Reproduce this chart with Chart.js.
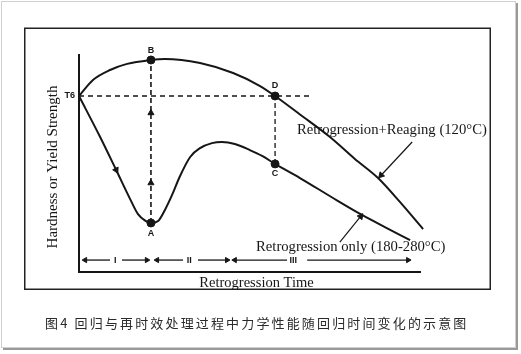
<!DOCTYPE html>
<html><head><meta charset="utf-8">
<script src="https://cdn.jsdelivr.net/npm/chart.js@4.4.1/dist/chart.umd.min.js"></script>
<style>html,body{margin:0;padding:0;background:#fff}canvas{display:block}</style>
</head><body>
<canvas id="c" width="521" height="354"></canvas>
<script>
// ---------------- data (schematic units: time 0-100, strength 0-100) ----------------
const reagingX = [0, 4.1, 9.1, 14.1, 21.1, 25.2, 35.5, 45.2, 53.1, 57.5, 64.8, 73.6, 80.9, 87.7, 94.1, 100.9];
const reagingY = [81.1, 88.5, 93.1, 95.9, 97.7, 98.2, 96.3, 91.7, 85.7, 81.1, 72.6, 62.2, 52.1, 43.3, 32.3, 19.8];
const retroX = [0, 6.2, 10.9, 15.0, 17.3, 19.4, 21.1, 23.2, 25.2, 27.3, 29.5, 32.6, 35.5, 39.0, 41.9, 45.7, 50.1, 53.7, 57.5, 64.8, 74.5, 83.0, 89.7, 97.1];
const retroY = [81.1, 62.2, 47.0, 33.6, 26.7, 23.7, 22.6, 23.5, 28.6, 35.5, 43.8, 53.0, 57.1, 59.4, 59.9, 59.0, 56.2, 53.5, 49.8, 43.3, 34.1, 26.3, 20.7, 14.7];
const pointNames = ['A', 'B', 'C', 'D'];
const pointX = [21.1, 21.1, 57.5, 57.5];
const pointY = [22.6, 97.7, 49.8, 81.1];
const t6Label = 'T6';
const t6Value = 81.1;
const t6LineEnd = 67.7;
const upArrowY = [73.3, 41.0];
const downArrow = [10.9, 47.0];
const regionNames = ['I', 'II', 'III'];
const regionFrom = [1.8, 22.9, 45.7];
const regionLeftEnd = [9.1, 30.5, 61.0];
const regionRightStart = [12.6, 34.9, 66.9];
const regionTo = [19.9, 43.4, 96.5];
const regionLabelX = [10.6, 32.3, 62.8];
const regionY = 5.5;
const reagingLabel = 'Retrogression+Reaging (120°C)';
const reagingLabelPos = [63.9, 65.4];
const reagingPointer = [[97.7, 59.9], [88.6, 44.6]];
const retroLabel = 'Retrogression only (180-280°C)';
const retroLabelPos = [51.9, 11.5];
const retroPointer = [[76.5, 13.8], [82.6, 25.6]];
const xTitle = 'Retrogression Time';
const yTitle = 'Hardness or Yield Strength';
const caption = '图4 回归与再时效处理过程中力学性能随回归时间变化的示意图';

// ---------------- helpers ----------------
const INK = '#161616';
const zip = (xs, ys) => xs.map((x, i) => ({x, y: ys[i]}));
function angleOf(chart, a, b) {
  const sx = chart.scales.x, sy = chart.scales.y;
  const dx = sx.getPixelForValue(b[0]) - sx.getPixelForValue(a[0]);
  const dy = sy.getPixelForValue(b[1]) - sy.getPixelForValue(a[1]);
  return Math.atan2(dx, -dy) * 180 / Math.PI;
}
function arrowDataset(from, to, width, head) {
  return {
    data: [{x: from[0], y: from[1]}, {x: to[0], y: to[1]}],
    borderColor: INK, backgroundColor: INK, borderWidth: width,
    pointRadius: [0, head], pointStyle: 'triangle',
    pointBackgroundColor: INK, pointBorderColor: INK, pointBorderWidth: 1,
    pointRotation: (c) => angleOf(c.chart, from, to),
    tension: 0, clip: false
  };
}

const datasets = [];
datasets.push({data: zip(reagingX, reagingY), borderColor: INK, borderWidth: 2, pointRadius: 0,
  cubicInterpolationMode: 'monotone', clip: false});
datasets.push({data: zip(retroX, retroY), borderColor: INK, borderWidth: 2, pointRadius: 0,
  cubicInterpolationMode: 'monotone', clip: false});
// dashed guide lines
datasets.push({data: [{x: 0, y: t6Value}, {x: t6LineEnd, y: t6Value}], borderColor: INK, borderWidth: 1.3,
  borderDash: [5, 4], pointRadius: 0, clip: false});
datasets.push({data: [{x: pointX[0], y: pointY[0]}, {x: pointX[1], y: pointY[1]}], borderColor: INK, borderWidth: 1.6,
  borderDash: [5, 3], pointRadius: 0, clip: false});
datasets.push({data: [{x: pointX[2], y: pointY[2]}, {x: pointX[3], y: pointY[3]}], borderColor: INK, borderWidth: 1.3,
  borderDash: [5, 3], pointRadius: 0, clip: false});
// arrow marks on lines
datasets.push({data: upArrowY.map(y => ({x: pointX[0], y})), showLine: false, pointStyle: 'triangle',
  pointRadius: 3.5, pointBackgroundColor: INK, pointBorderColor: INK, pointRotation: 0, clip: false});
datasets.push({data: [{x: downArrow[0], y: downArrow[1]}], showLine: false, pointStyle: 'triangle',
  pointRadius: 3.5, pointBackgroundColor: INK, pointBorderColor: INK,
  pointRotation: (c) => angleOf(c.chart, [retroX[0], retroY[0]], [retroX[3], retroY[3]]), clip: false});
// key points A B C D
datasets.push({data: zip(pointX, pointY), showLine: false, pointRadius: 4, pointBackgroundColor: INK,
  pointBorderColor: INK, pointStyle: 'circle', clip: false});
// pointers from labels
datasets.push(arrowDataset(reagingPointer[0], reagingPointer[1], 1.2, 3.5));
datasets.push(arrowDataset(retroPointer[0], retroPointer[1], 1.2, 3.5));
// region arrows
regionNames.forEach((n, i) => {
  datasets.push(arrowDataset([regionLeftEnd[i], regionY], [regionFrom[i], regionY], 1.3, 3));
  datasets.push(arrowDataset([regionRightStart[i], regionY], [regionTo[i], regionY], 1.3, 3));
});

const textPlugin = {
  id: 'texts',
  beforeDraw(chart) {
    const ctx = chart.ctx;
    ctx.save();
    ctx.fillStyle = '#fff';
    ctx.fillRect(0, 0, chart.width, chart.height);
    // outer picture border with shadow
    ctx.strokeStyle = '#d0d0d0'; ctx.lineWidth = 1;
    ctx.strokeRect(1.5, 1.5, 514, 346);
    ctx.strokeStyle = '#9a9a9a'; ctx.lineWidth = 2;
    ctx.beginPath(); ctx.moveTo(517, 3); ctx.lineTo(517, 349); ctx.lineTo(3, 349); ctx.stroke();
    // inner frame
    ctx.strokeStyle = '#222'; ctx.lineWidth = 1.5;
    ctx.strokeRect(24.75, 28.25, 465.5, 261);
    ctx.restore();
  },
  afterDraw(chart) {
    const ctx = chart.ctx, sx = chart.scales.x, sy = chart.scales.y;
    const X = v => sx.getPixelForValue(v), Y = v => sy.getPixelForValue(v);
    ctx.save();
    ctx.fillStyle = INK;
    // point letters
    ctx.font = 'bold 9px "Liberation Sans", Arial, sans-serif';
    ctx.textAlign = 'center'; ctx.textBaseline = 'middle';
    const offs = {A: 11, B: -9, C: 10, D: -10};
    pointNames.forEach((n, i) => ctx.fillText(n, X(pointX[i]), Y(pointY[i]) + offs[n]));
    ctx.textAlign = 'right';
    ctx.fillText(t6Label, X(0) - 4, Y(t6Value));
    // region labels
    ctx.textAlign = 'center';
    regionNames.forEach((n, i) => ctx.fillText(n, X(regionLabelX[i]), Y(regionY)));
    // annotations
    ctx.font = '14.7px "Liberation Serif", "Times New Roman", serif';
    ctx.textAlign = 'left';
    ctx.fillText(reagingLabel, X(reagingLabelPos[0]), Y(reagingLabelPos[1]));
    ctx.fillText(retroLabel, X(retroLabelPos[0]), Y(retroLabelPos[1]));
    // axis titles
    ctx.font = '14.5px "Liberation Serif", "Times New Roman", serif';
    ctx.textAlign = 'center';
    ctx.fillText(xTitle, (chart.chartArea.left + chart.chartArea.right) / 2 + 7, chart.chartArea.bottom + 11);
    ctx.save();
    ctx.translate(53, 167);
    ctx.rotate(-Math.PI / 2);
    ctx.font = '15px "Liberation Serif", "Times New Roman", serif';
    ctx.fillText(yTitle, 0, 0);
    ctx.restore();
    // caption
    ctx.font = '13px "Noto Sans CJK SC", sans-serif';
    ctx.fillStyle = '#2a2a2a';
    ctx.textAlign = 'left';
    try { ctx.letterSpacing = '2.15px'; } catch (e) {}
    ctx.fillText(caption, 45, 323);
    ctx.restore();
  }
};

new Chart(document.getElementById('c'), {
  type: 'line',
  data: {datasets},
  options: {
    responsive: false, animation: false, events: [],
    layout: {padding: {left: 79, top: 55, right: 101, bottom: 82}},
    plugins: {legend: {display: false}, tooltip: {enabled: false}},
    scales: {
      x: {type: 'linear', min: 0, max: 100, grid: {display: false, drawTicks: false}, ticks: {display: false},
        border: {display: true, color: INK, width: 2}},
      y: {type: 'linear', min: 0, max: 100, grid: {display: false, drawTicks: false}, ticks: {display: false},
        border: {display: true, color: INK, width: 2}}
    }
  },
  plugins: [textPlugin]
});
</script>
</body></html>
